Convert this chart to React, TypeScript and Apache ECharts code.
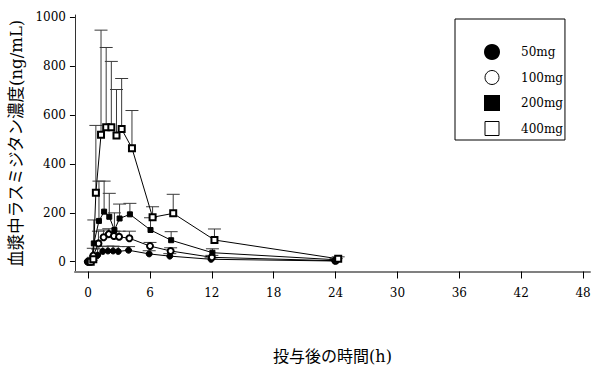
import React, { useEffect, useRef } from "react";
import * as echarts from "echarts";

const HOURS = [0, 0.25, 0.5, 1, 1.5, 2, 2.5, 3, 4, 6, 8, 12, 24];
const X_TICKS = [0, 6, 12, 18, 24, 30, 36, 42, 48];
const Y_TICKS = [0, 200, 400, 600, 800, 1000];

const DOSES = ["50mg", "100mg", "200mg", "400mg"];
const MEAN_50 = [0, 0, 8, 27, 42, 44, 44, 42, 47, 32, 23, 10, 3];
const SD_50 = [0, 0, 5, 25, 20, 20, 20, 20, 15, 13, 10, 6, 2];
const MEAN_100 = [0, 0, 25, 75, 100, 113, 105, 102, 96, 64, 44, 18, 4];
const SD_100 = [0, 0, 30, 50, 30, 22, 20, 23, 29, 15, 13, 8, 4];
const MEAN_200 = [0, 3, 75, 167, 205, 184, 130, 177, 194, 130, 88, 37, 8];
const SD_200 = [0, 3, 96, 163, 125, 96, 70, 59, 45, 50, 35, 16, 5];
const MEAN_400 = [0, 10, 282, 520, 551, 551, 517, 543, 465, 182, 198, 89, 12];
const SD_400 = [0, 8, 276, 428, 326, 269, 188, 207, 154, 43, 78, 45, 8];

// horizontal dodge (h) so that the groups do not overlap
const DODGE = [-0.08, 0, 0.05, 0.25];

const MEANS = [MEAN_50, MEAN_100, MEAN_200, MEAN_400];
const SDS = [SD_50, SD_100, SD_200, SD_400];

const SYMBOLS = ["circle", "emptyCircle", "rect", "emptyRect"];
const SYMBOL_SIZES = [6, 6, 5, 6];

const SERIF = "'DejaVu Serif', 'Noto Sans CJK JP', serif";

export default function App() {
  const ref = useRef<HTMLDivElement>(null);
  useEffect(() => {
    if (!ref.current) return;
    const chart = echarts.init(ref.current, null, { renderer: "svg" });

    const series: any[] = [];
    DOSES.forEach((name, k) => {
      const errData = HOURS.map((h, i) => [h + DODGE[k], MEANS[k][i], MEANS[k][i] + SDS[k][i]]);
      series.push({
        name: name + " SD",
        type: "custom",
        z: 1,
        silent: true,
        clip: false,
        data: errData,
        encode: { x: 0, y: [1, 2] },
        renderItem: (params: any, api: any) => {
          const x = api.value(0);
          const m = api.value(1);
          const u = api.value(2);
          if (u - m <= 0) return null;
          const p0 = api.coord([x, m]);
          const p1 = api.coord([x, u]);
          const st = { stroke: "#3a3a3a", lineWidth: 1 };
          return {
            type: "group",
            children: [
              { type: "line", shape: { x1: p0[0], y1: p0[1], x2: p1[0], y2: p1[1] }, style: st },
              { type: "line", shape: { x1: p1[0] - 6.5, y1: p1[1], x2: p1[0] + 6.5, y2: p1[1] }, style: st },
            ],
          };
        },
      });
      series.push({
        name,
        type: "line",
        z: 3,
        clip: false,
        data: HOURS.map((h, i) => [h + DODGE[k], MEANS[k][i]]),
        symbol: SYMBOLS[k],
        symbolSize: SYMBOL_SIZES[k],
        showSymbol: true,
        lineStyle: { color: "#000", width: 1 },
        itemStyle: { color: "#000", borderColor: "#000", borderWidth: 1 },
      });
    });

    chart.setOption({
      animation: false,
      backgroundColor: "#fff",
      grid: { left: 67, right: 10, top: 15, bottom: 100.5, containLabel: false },
      legend: {
        orient: "vertical",
        left: 455,
        top: 19,
        padding: [25, 2, 4, 29],
        itemGap: 10,
        itemWidth: 14,
        itemHeight: 14,
        borderColor: "#000",
        borderWidth: 1,
        selectedMode: false,
        textStyle: { fontFamily: SERIF, fontSize: 12, color: "#000", padding: [0, 0, 0, 17] },
        data: [
          { name: "50mg", icon: "circle", itemStyle: { color: "#000" } },
          { name: "100mg", icon: "circle", itemStyle: { color: "#fff", borderColor: "#000", borderWidth: 1 } },
          { name: "200mg", icon: "rect", itemStyle: { color: "#000" } },
          { name: "400mg", icon: "rect", itemStyle: { color: "#fff", borderColor: "#000", borderWidth: 1 } },
        ],
      },
      xAxis: {
        type: "value",
        min: -1.28,
        max: 48.67,
        name: "投与後の時間(h)",
        nameLocation: "middle",
        nameGap: 77,
        nameTextStyle: { fontFamily: SERIF, fontSize: 16, color: "#000" },
        axisLine: { show: true, onZero: false, lineStyle: { color: "#808080", width: 2 } },
        axisTick: { show: true, length: 7, customValues: X_TICKS, lineStyle: { color: "#000" } },
        axisLabel: {
          customValues: X_TICKS,
          formatter: (v: number) => String(v),
          fontFamily: SERIF,
          fontSize: 12,
          color: "#000",
          margin: 15,
        },
        splitLine: { show: false },
      },
      yAxis: {
        type: "value",
        min: -40,
        max: 1010,
        name: "血漿中ラスミジタン濃度(ng/mL)",
        nameLocation: "middle",
        nameGap: 42,
        nameRotate: 90,
        nameTextStyle: { fontFamily: SERIF, fontSize: 16.5, color: "#000" },
        axisLine: { show: true, onZero: false, lineStyle: { color: "#333", width: 1 } },
        axisTick: { show: true, length: 5, customValues: Y_TICKS, lineStyle: { color: "#000" } },
        axisLabel: {
          customValues: Y_TICKS,
          formatter: (v: number) => String(v),
          fontFamily: SERIF,
          fontSize: 12,
          color: "#000",
          margin: 9,
        },
        splitLine: { show: false },
      },
      series,
    });
    return () => chart.dispose();
  }, []);
  return (
    <div
      ref={ref}
      style={{ position: "fixed", left: 0, top: 0, width: 600, height: 372, background: "#fff" }}
    />
  );
}
